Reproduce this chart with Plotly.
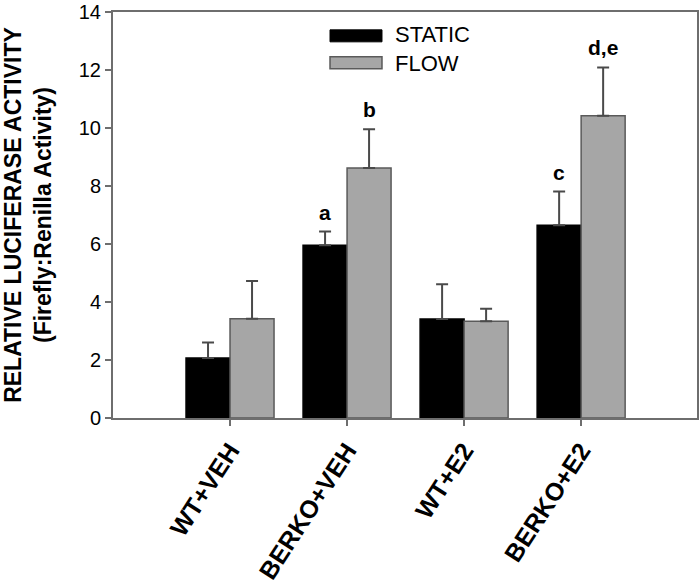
import plotly.graph_objects as go

categories = ["WT+VEH", "BERKO+VEH", "WT+E2", "BERKO+E2"]
static_mean = [2.07, 5.96, 3.41, 6.65]
static_err = [0.53, 0.47, 1.20, 1.16]
flow_mean = [3.42, 8.62, 3.34, 10.42]
flow_err = [1.30, 1.34, 0.43, 1.67]
static_sig = ["", "a", "", "c"]
flow_sig = ["", "b", "", "d,e"]
y_ticks = [0, 2, 4, 6, 8, 10, 12, 14]

FONT = "Liberation Sans, Arial, sans-serif"
AXCOL = "#6e6e6e"
ERRCOL = "#4a4a4a"

fig = go.Figure()
fig.add_trace(go.Bar(
    name="STATIC", x=categories, y=static_mean,
    marker=dict(color="#000000", line=dict(color="#000000", width=1.5)),
    error_y=dict(type="data", symmetric=False, array=static_err,
                 arrayminus=[0] * len(static_err), color=ERRCOL,
                 thickness=2, width=6),
    showlegend=False,
))
fig.add_trace(go.Bar(
    name="FLOW", x=categories, y=flow_mean,
    marker=dict(color="#a6a6a6", line=dict(color="#5a5a5a", width=1.5)),
    error_y=dict(type="data", symmetric=False, array=flow_err,
                 arrayminus=[0] * len(flow_err), color=ERRCOL,
                 thickness=2, width=6),
    showlegend=False,
))

half = 0.188
for i, cat in enumerate(categories):
    for lab, m, e, off in ((static_sig[i], static_mean[i], static_err[i], -half),
                           (flow_sig[i], flow_mean[i], flow_err[i], half)):
        if lab:
            fig.add_annotation(x=i + off, y=m + e, text=lab, showarrow=False,
                               yanchor="bottom", yshift=6,
                               font=dict(family=FONT, size=21, color="black", weight="bold"))

# custom legend with wide swatches
fig.add_shape(type="rect", xref="paper", yref="paper", x0=0.3716, x1=0.4606,
              y0=0.9265, y1=0.956, fillcolor="#000000", line=dict(color="#000000", width=1))
fig.add_shape(type="rect", xref="paper", yref="paper", x0=0.3716, x1=0.4606,
              y0=0.860, y1=0.890, fillcolor="#a6a6a6", line=dict(color="#5a5a5a", width=1.5))
fig.add_annotation(xref="paper", yref="paper", x=0.479, y=0.9436, text="STATIC",
                   showarrow=False, xanchor="left", yanchor="middle",
                   font=dict(family=FONT, size=22, color="black"))
fig.add_annotation(xref="paper", yref="paper", x=0.479, y=0.8725, text="FLOW",
                   showarrow=False, xanchor="left", yanchor="middle",
                   font=dict(family=FONT, size=22, color="black"))

fig.update_layout(
    width=700, height=587,
    margin=dict(l=113, r=3, t=12, b=169),
    paper_bgcolor="white", plot_bgcolor="white",
    barmode="group", bargap=0.248, bargroupgap=0,
    font=dict(family=FONT, color="black"),
)
fig.update_xaxes(
    range=[-1, 3.99], showline=True, linecolor=AXCOL, linewidth=2, mirror=True,
    ticks="outside", ticklen=6, tickwidth=2, tickcolor=AXCOL,
    tickangle=-57, showgrid=False, zeroline=False, automargin=False,
    tickfont=dict(family=FONT, size=25, color="black", weight="bold"),
)
fig.update_yaxes(
    range=[0, 14.0001], tickvals=y_ticks, showline=True, linecolor=AXCOL, linewidth=2,
    mirror=True, ticks="outside", ticklen=6, tickwidth=2, tickcolor=AXCOL,
    showgrid=False, zeroline=False, automargin=False, ticklabeloverflow="allow",
    tickfont=dict(family=FONT, size=20, color="black"),
    title=dict(text="RELATIVE LUCIFERASE ACTIVITY<br>(Firefly:Renilla Activity)",
               font=dict(family=FONT, size=23, color="black", weight="bold"),
               standoff=22),
)

fig.write_html("out.html", config={"displayModeBar": False},
               post_script="document.body.style.margin='0';")
